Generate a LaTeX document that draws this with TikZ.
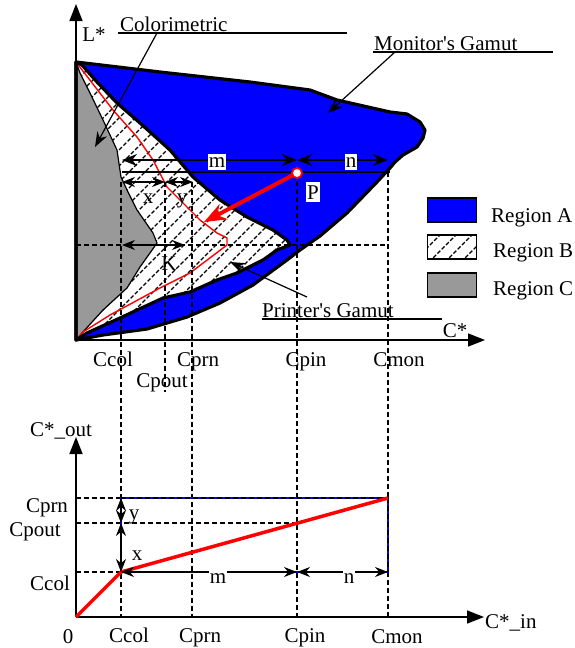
\documentclass[tikz,border=0pt]{standalone}
\usepackage{fontspec}
\setmainfont{Liberation Serif}
\usetikzlibrary{positioning, arrows.meta, calc}

\newcommand{\MonitorPath}{(76,62) -- (160,72) -- (250,82) -- (310,90) -- (337,100) -- (390,112) -- (407,114) -- (420,122) -- (425,130) -- (423,138) -- (417,147) -- (403,155) -- (395,162) -- (390,168) -- (377,182) -- (347,213) -- (320,236) -- (300,250) -- (287,260) -- (253,285) -- (220,303) -- (187,317) -- (147,329) -- (103,335) -- (76,340) -- cycle}
\newcommand{\PrinterPath}{(76,62) -- (82,65) -- (97,82) -- (117,103) -- (140,123) -- (170,150) -- (193,177) -- (220,200) -- (247,217) -- (273,230) -- (287,240) -- (290,245) -- (277,250) -- (263,260) -- (237,273) -- (217,280) -- (190,292) -- (163,298) -- (120,318) -- (87,333) -- (76,340) -- cycle}
\newcommand{\ColorimPath}{(76,62) -- (80,73) -- (90,93) -- (103,120) -- (117,150) -- (121,177) -- (127,190) -- (137,210) -- (153,233) -- (157,243) -- (150,253) -- (140,267) -- (127,288) -- (103,310) -- (83,332) -- (76,340) -- cycle}

\begin{document}
\begin{tikzpicture}[x=1pt, y=-1pt, >=Stealth,
  lbl/.style={font=\fontsize{21}{24}\selectfont, inner sep=1pt, anchor=base},
  gridline/.style={line width=1.2pt, dash pattern=on 5pt off 3pt},
  outline/.style={line width=3.2pt, line join=round},
  dim/.style={<->, line width=1.4pt, >={Stealth[length=13pt, width=10pt]}},
  axis/.style={->, line width=1.6pt, >={Triangle[length=17pt, width=13pt]}},
  leader/.style={->, line width=1.2pt, >={Stealth[length=15pt, width=11pt]}},
  hatch/.style={line width=1.3pt, dash pattern=on 4pt off 2pt},
  legendbox/.style={draw, line width=1.4pt, minimum width=49pt, minimum height=24pt, inner sep=0pt}]
  \useasboundingbox (0,0) rectangle (574,648);

  % Gamuts
  \fill[blue] \MonitorPath;
  \fill[white] \PrinterPath;
  \begin{scope}
    \clip \PrinterPath;
    \foreach \a in {-220,-204,...,300}
      \draw[hatch] (\a,345) -- ++(300,-300);
  \end{scope}
  \fill[black!40] \ColorimPath;
  \draw[line width=1.2pt, line join=round] \ColorimPath;
  \draw[red, line width=1.4pt, line join=round] (76,62) -- (113,110) -- (137,137) -- (153,160) -- (167,187) -- (187,207) -- (200,220) -- (217,233) -- (227,238) -- (227,245) -- (190,273) -- (160,288) -- (110,315) -- (83,332) -- (76,340);
  \draw[outline] \PrinterPath;
  \draw[outline] \MonitorPath;

  % Key points
  \coordinate (O) at (76,340);
  \coordinate (P) at (297,173);
  \coordinate (Pend) at (204,222);

  % Axis
  \draw[axis] (O) -- (76,4);
  \draw[axis] (O) -- (485,340);
  \node[lbl] (lstar) at (94,41) {L*};
  \node[lbl] (cstar) at (455,337) {C*};

  % Guide lines
  \draw[gridline] (76,245) -- (388,245);
  \draw[gridline] (121,182) -- (121,617);
  \draw[gridline] (165,182) -- (165,392);
  \draw[gridline] (192,182) -- (192,617);
  \draw[gridline] (297,173) -- (297,617);
  \draw[gridline] (388,172) -- (388,617);

  % Distances
  \coordinate (m1) at (122,160);
  \coordinate (m2) at (297,160);
  \coordinate (n2) at (388,160);
  \draw[dim, >={Stealth[length=15pt, width=12pt]}] (m1) -- (m2);
  \draw[dim, >={Stealth[length=15pt, width=12pt]}] (m2) -- (n2);
  \draw[line width=1.4pt] (122,172) -- (390,172);
  \draw[dim] (122,182) -- (165,182);
  \draw[dim] (165,182) -- (193,182);
  \draw[dim] (122,245) -- (185,245);
  \node[lbl, fill=white, inner ysep=3pt] (mtop) at (217,167) {m};
  \node[lbl, fill=white, inner ysep=3pt] (ntop) at (351,167) {n};
  \node[lbl] (xtop) at (148,203) {x};
  \node[lbl] (ytop) at (182,203) {y};
  \node[lbl] (K) at (169,270) {K};

  % Point P
  \draw[red, line width=4pt, -{Stealth[length=22pt, width=17pt]}] (P) -- (Pend);
  \filldraw[fill=white, draw=red, line width=1.8pt] (P) circle (5pt);
  \node[lbl, fill=white, inner ysep=3pt] (Plbl) at (313,199) {P};

  % Leaders
  \node[lbl, anchor=base west] (colorim) at (119,31) {Colorimetric};
  \draw[line width=1.2pt] (118,33) -- (347,33);
  \coordinate (colorimtip) at (95,147);
  \draw[leader] (157,33) -- (colorimtip);
  \node[lbl, anchor=base west] (monitor) at (373,50) {Monitor\textquotesingle s Gamut};
  \draw[line width=1.2pt] (373,52) -- (553,52);
  \coordinate (monitortip) at (328,113);
  \draw[leader] (395,52) -- (monitortip);
  \node[lbl, anchor=base west] (printer) at (261,317) {Printer\textquotesingle s Gamut};
  \draw[line width=1.2pt] (262,319) -- (442,319);
  \coordinate (printertip) at (230,262);
  \draw[leader] (307,297) -- (printertip);

  % Legend
  \node[legendbox, fill=blue] (boxA) at (452,210) {};
  \node[legendbox, fill=white, path picture={
    \foreach \k in {-24,-8,...,40}
      \draw[hatch] ($(path picture bounding box.center)+(\k-15,15)$) -- ++(30,-30);}] (boxB) at (452,247) {};
  \node[legendbox, fill=black!40] (boxC) at (452,285) {};
  \node[lbl, anchor=base west] (regA) at (490,222) {Region A};
  \node[lbl, anchor=base west] (regB) at (492,257) {Region B};
  \node[lbl, anchor=base west] (regC) at (492,295) {Region C};

  % Top axis labels
  \node[lbl] (ccolT) at (113,366) {Ccol};
  \node[lbl] (cpoutT) at (162,387) {Cpout};
  \node[lbl] (cprnT) at (198,366) {Cprn};
  \node[lbl] (cpinT) at (306,366) {Cpin};
  \node[lbl] (cmonT) at (399,366) {Cmon};

  % Mapping plot
  \coordinate (O2) at (76,617);
  \draw[axis] (O2) -- (76,437);
  \draw[axis] (O2) -- (484,617);
  \node[lbl, anchor=base west] (cout) at (29,436) {C*\_out};
  \node[lbl, anchor=base west] (cin) at (484,628) {C*\_in};
  \draw[gridline] (76,498) -- (388,498);
  \draw[gridline] (76,523) -- (297,523);
  \draw[gridline] (76,572) -- (121,572);
  \draw[blue, line width=1.5pt] (121,498) rectangle (388,572);
  \draw[gridline] (121,498) -- (388,498);
  \draw[gridline] (388,498) -- (388,572);
  \draw[red, line width=3.5pt, line join=round] (O2) -- (121,572) -- (388,498);
  \draw[dim] (121,498) -- (121,523);
  \draw[dim] (121,523) -- (121,572);
  \draw[dim] (121,572) -- (297,572);
  \draw[dim] (297,572) -- (388,572);
  \node[lbl, fill=white, inner ysep=2pt] (mbot) at (218,583) {m};
  \node[lbl, fill=white, inner ysep=2pt] (nbot) at (349,583) {n};
  \node[lbl] (ybot) at (134,519) {y};
  \node[lbl] (xbot) at (137,560) {x};
  \node[lbl] (cprnL) at (47,512) {Cprn};
  \node[lbl] (cpoutL) at (35,536) {Cpout};
  \node[lbl] (ccolL) at (50,590) {Ccol};
  \node[lbl] (zero) at (68,643) {0};
  \node[lbl] (ccolB) at (129,642) {Ccol};
  \node[lbl] (cprnB) at (200,642) {Cprn};
  \node[lbl] (cpinB) at (305,642) {Cpin};
  \node[lbl] (cmonB) at (397,643) {Cmon};

\end{tikzpicture}
\end{document}
